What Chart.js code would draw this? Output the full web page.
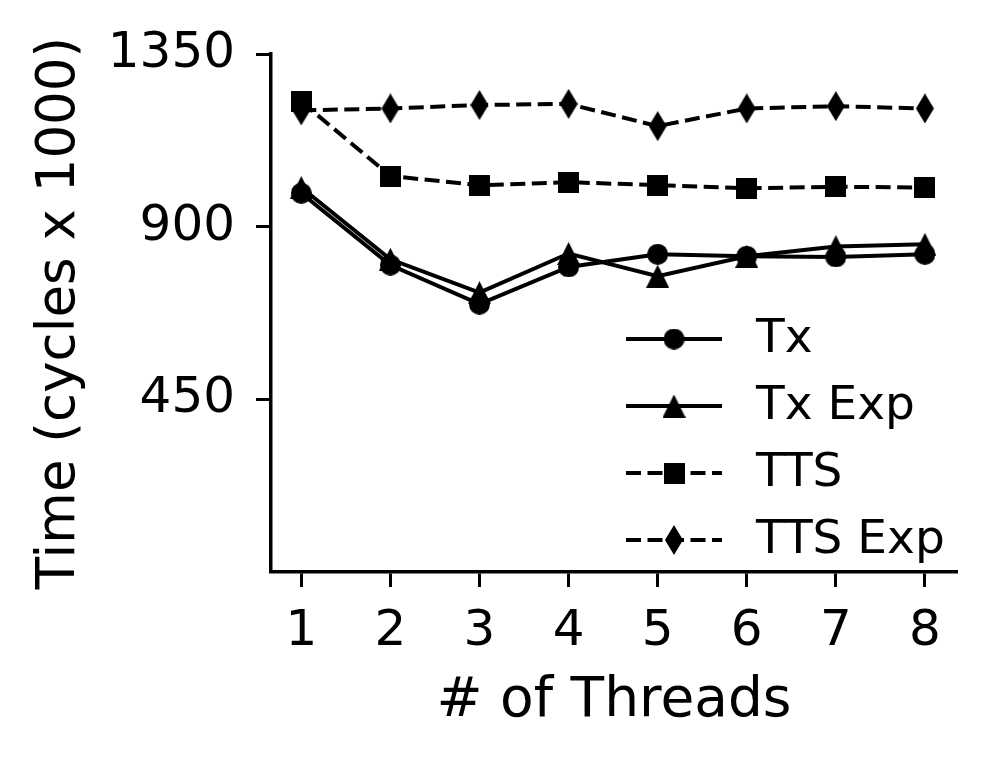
<!DOCTYPE html>
<html>
<head>
<meta charset="utf-8">
<script src="https://cdn.jsdelivr.net/npm/chart.js@4/dist/chart.umd.min.js"></script>
<style>
  html, body { margin: 0; padding: 0; background: #fff; }
  #chart { display: block; }
</style>
</head>
<body>
<canvas id="chart" width="997" height="769"></canvas>
<script>
// data
const threads = [1, 2, 3, 4, 5, 6, 7, 8];
const seriesNames = ["Tx", "Tx Exp", "TTS", "TTS Exp"];
const txTimes = [987, 800, 698, 795, 828, 823, 821, 828];
const txExpTimes = [1002, 815, 728, 830, 771, 823, 848, 854];
const ttsTimes = [1226, 1032, 1008, 1016, 1008, 1000, 1004, 1002];
const ttsExpTimes = [1203, 1208, 1217, 1220, 1162, 1208, 1214, 1208];
const yTicks = [450, 900, 1350];

const FONT = '"DejaVu Sans", "Liberation Sans", sans-serif';

// matplotlib-like markers drawn on small canvases
function makeMarker(kind) {
  const c = document.createElement("canvas");
  const sizes = { circle: [21, 21], square: [21, 21], triangle: [23, 23], diamond: [18, 30] };
  const [w, h] = sizes[kind];
  c.width = w;
  c.height = h;
  const g = c.getContext("2d");
  g.fillStyle = "#000";
  g.beginPath();
  if (kind === "circle") {
    g.arc(w / 2, h / 2, w / 2, 0, Math.PI * 2);
  } else if (kind === "square") {
    g.rect(0, 0, w, h);
  } else if (kind === "triangle") {
    g.moveTo(w / 2, 0);
    g.lineTo(w, h);
    g.lineTo(0, h);
  } else {
    g.moveTo(w / 2, 0);
    g.lineTo(w, h / 2);
    g.lineTo(w / 2, h);
    g.lineTo(0, h / 2);
  }
  g.closePath();
  g.fill();
  return c;
}

function series(label, values, marker, dashed) {
  return {
    label: label,
    data: threads.map((t, i) => ({ x: t, y: values[i] })),
    borderColor: "#000",
    borderWidth: 4,
    borderDash: dashed ? [15, 6.5] : [],
    pointStyle: makeMarker(marker),
    pointRadius: 10,
    pointHoverRadius: 10,
    fill: false,
    tension: 0,
  };
}

// legend in the lower right of the plot area, line + marker like matplotlib
const lineLegend = {
  id: "lineLegend",
  afterDatasetsDraw(chart) {
    const ctx = chart.ctx;
    ctx.save();
    chart.data.datasets.forEach((ds, i) => {
      const y = 339 + i * 67;
      ctx.beginPath();
      ctx.setLineDash(ds.borderDash);
      ctx.lineWidth = ds.borderWidth;
      ctx.strokeStyle = ds.borderColor;
      ctx.moveTo(626, y);
      ctx.lineTo(722, y);
      ctx.stroke();
      ctx.setLineDash([]);
      const m = ds.pointStyle;
      ctx.drawImage(m, 674 - m.width / 2, y - m.height / 2);
      ctx.fillStyle = "#000";
      ctx.font = "47px " + FONT;
      ctx.textAlign = "left";
      ctx.textBaseline = "middle";
      ctx.fillText(ds.label, 756, y + 1);
    });
    ctx.restore();
  },
};

new Chart(document.getElementById("chart"), {
  type: "line",
  data: {
    datasets: [
      series(seriesNames[0], txTimes, "circle", false),
      series(seriesNames[1], txExpTimes, "triangle", false),
      series(seriesNames[2], ttsTimes, "square", true),
      series(seriesNames[3], ttsExpTimes, "diamond", true),
    ],
  },
  options: {
    responsive: false,
    animation: false,
    layout: { padding: { left: 0, top: 54, right: 40, bottom: 0 } },
    plugins: {
      legend: { display: false },
      tooltip: { enabled: false },
    },
    scales: {
      x: {
        type: "linear",
        min: 0.66,
        max: 8.36,
        afterBuildTicks: (scale) => {
          scale.ticks = threads.map((v) => ({ value: v }));
        },
        afterFit: (scale) => {
          scale.height = 197;
        },
        ticks: {
          color: "#000",
          font: { family: FONT, size: 50 },
          padding: 15,
          maxRotation: 0,
          callback: (v) => String(v),
        },
        grid: {
          drawOnChartArea: false,
          tickLength: 15,
          tickWidth: 3,
          tickColor: "#000",
        },
        border: { display: true, color: "#000", width: 3.5 },
        title: {
          display: true,
          text: "# of Threads",
          color: "#000",
          font: { family: FONT, size: 55 },
          padding: { top: 0, bottom: 34 },
        },
      },
      y: {
        min: 0,
        max: 1350,
        afterBuildTicks: (scale) => {
          scale.ticks = yTicks.map((v) => ({ value: v }));
        },
        afterFit: (scale) => {
          scale.width = 271;
        },
        ticks: {
          color: "#000",
          font: { family: FONT, size: 50 },
          padding: 21,
          callback: (v) => String(v),
        },
        grid: {
          drawOnChartArea: false,
          tickLength: 15,
          tickWidth: 3,
          tickColor: "#000",
        },
        border: { display: true, color: "#000", width: 3.5 },
        title: {
          display: true,
          text: "Time (cycles x 1000)",
          color: "#000",
          font: { family: FONT, size: 53 },
          padding: { top: 28, bottom: 0 },
        },
      },
    },
  },
  plugins: [lineLegend],
});
</script>
</body>
</html>
